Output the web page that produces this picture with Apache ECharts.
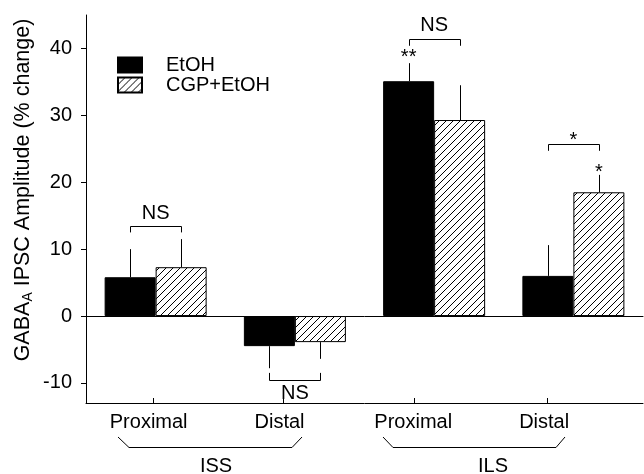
<!DOCTYPE html>
<html>
<head>
<meta charset="utf-8">
<script src="https://cdn.jsdelivr.net/npm/echarts@6/dist/echarts.min.js"></script>
<style>
  html, body { margin: 0; padding: 0; background: #fff; }
  #chart { width: 644px; height: 474px; }
</style>
</head>
<body>
<div id="chart"></div>
<script>
var FONT = '"Liberation Sans", Arial, sans-serif';

// data
var CATEGORIES = ['ISS Proximal', 'ISS Distal', 'ILS Proximal', 'ILS Distal'];
var SERIES_NAMES = ['EtOH', 'CGP+EtOH'];
var ETOH = [5.8, -4.5, 35.1, 6.0];
var ETOH_ERR = [4.2, 3.3, 2.7, 4.6];
var CGP = [7.3, -3.9, 29.3, 18.5];
var CGP_ERR = [4.2, 2.5, 5.2, 2.6];

var Y_TICKS = [-10, 0, 10, 20, 30, 40];
// bottom axis labels sit a bit left of the bar pairs in the original
var X_TICK_POS = [0.48, 1.42, 2.36, 3.31];
var X_LABEL_POS = [0.45, 1.39, 2.35, 3.29];
var X_LABELS = ['Proximal', 'Distal', 'Proximal', 'Distal'];

// significance brackets: category, height, leg direction
var BRACKET_CAT = [0, 1, 2, 3];
var BRACKET_Y = [13.5, -9.5, 41.4, 25.7];
var BRACKET_LEG = [-1, 1, -1, -1];

// annotation text: category, side (-1 EtOH, 0 middle, 1 CGP), height
var NOTE_TEXT = ['NS', 'NS', 'NS', '**', '*', '*'];
var NOTE_CAT = [0, 1, 2, 2, 3, 3];
var NOTE_SIDE = [0, 0, 0, -1, 0, 1];
var NOTE_Y = [15.3, -11.6, 43.5, 38.7, 26.2, 21.4];

var BAR_W = 51;

function makeHatch() {
  var c = document.createElement('canvas');
  c.width = 7; c.height = 7;
  var ctx = c.getContext('2d');
  ctx.fillStyle = '#fff';
  ctx.fillRect(0, 0, 7, 7);
  ctx.strokeStyle = '#000';
  ctx.lineWidth = 1;
  ctx.beginPath();
  ctx.moveTo(-1, 8); ctx.lineTo(8, -1);
  ctx.moveTo(-1, 1); ctx.lineTo(1, -1);
  ctx.moveTo(6, 8); ctx.lineTo(8, 6);
  ctx.stroke();
  return c;
}

function errData(vals, errs) {
  return vals.map(function (v, i) { return [i, v, errs[i]]; });
}

function errRenderer(side) {
  return function (params, api) {
    var v = api.value(1), e = api.value(2);
    var a = api.coord([api.value(0), v]);
    var b = api.coord([api.value(0), v < 0 ? v - e : v + e]);
    var x = Math.round(a[0] + side * BAR_W / 2) + 0.5;
    return {
      type: 'line',
      shape: { x1: x, y1: a[1], x2: x, y2: b[1] },
      style: { stroke: '#000', lineWidth: 1 }
    };
  };
}

var bracketData = BRACKET_CAT.map(function (c, i) { return [c, BRACKET_Y[i], BRACKET_LEG[i]]; });
var noteData = NOTE_TEXT.map(function (t, i) { return [NOTE_CAT[i], NOTE_Y[i], NOTE_SIDE[i]]; });

var chart = echarts.init(document.getElementById('chart'), null, { renderer: 'canvas' });
var hatch = { image: makeHatch(), repeat: 'repeat' };

chart.setOption({
  animation: false,
  textStyle: { fontFamily: FONT, color: '#000' },
  grid: { left: 86, right: 1, top: 15, bottom: 71, containLabel: false },
  legend: {
    data: SERIES_NAMES,
    orient: 'vertical',
    left: 117,
    top: 55,
    padding: 0,
    itemWidth: 24,
    itemHeight: 15,
    itemGap: 0,
    icon: 'rect',
    selectedMode: false,
    textStyle: { fontSize: 20, lineHeight: 20, fontFamily: FONT, color: '#000', padding: [0, 0, 0, 19] }
  },
  xAxis: [{
    type: 'category',
    data: CATEGORIES,
    axisLine: { onZero: true, lineStyle: { color: '#000', width: 1 } },
    axisTick: { show: false },
    axisLabel: { show: false },
    splitLine: { show: false }
  }, {
    type: 'value',
    position: 'bottom',
    min: 0,
    max: 4,
    axisLine: { show: true, onZero: false, lineStyle: { color: '#000', width: 1 } },
    axisTick: { show: true, inside: true, length: 5, lineStyle: { color: '#000' }, customValues: X_TICK_POS },
    axisLabel: {
      customValues: X_LABEL_POS,
      margin: 9,
      fontSize: 20,
      fontFamily: FONT,
      color: '#000',
      formatter: function (v) {
        var i = X_LABEL_POS.indexOf(v);
        return i >= 0 ? X_LABELS[i] : '';
      }
    },
    splitLine: { show: false }
  }],
  yAxis: {
    type: 'value',
    min: -13,
    max: 45,
    axisLine: { show: true, lineStyle: { color: '#000', width: 1 } },
    axisTick: { show: true, inside: false, length: 5, lineStyle: { color: '#000' }, customValues: Y_TICKS },
    axisLabel: { customValues: Y_TICKS, margin: 14, fontSize: 20, fontFamily: FONT, color: '#000' },
    splitLine: { show: false }
  },
  series: [{
    name: SERIES_NAMES[0],
    type: 'bar',
    data: ETOH,
    barWidth: BAR_W,
    barGap: '0%',
    itemStyle: { color: '#000', borderColor: '#000', borderWidth: 1 }
  }, {
    name: SERIES_NAMES[1],
    type: 'bar',
    data: CGP,
    barWidth: BAR_W,
    barGap: '0%',
    itemStyle: { color: hatch, borderColor: '#000', borderWidth: 1 }
  }, {
    type: 'custom',
    data: errData(ETOH, ETOH_ERR),
    renderItem: errRenderer(-1),
    z: 5,
    silent: true
  }, {
    type: 'custom',
    data: errData(CGP, CGP_ERR),
    renderItem: errRenderer(1),
    z: 5,
    silent: true
  }, {
    type: 'custom',
    data: bracketData,
    z: 5,
    silent: true,
    renderItem: function (params, api) {
      var c = api.value(0), y = api.value(1), d = api.value(2);
      var p = api.coord([c, y]);
      var q = api.coord([c, y + d]);
      var l = Math.round(p[0] - BAR_W / 2) + 0.5;
      var r = Math.round(p[0] + BAR_W / 2) + 0.5;
      var yh = Math.round(p[1]) + 0.5;
      return {
        type: 'polyline',
        shape: { points: [[l, q[1]], [l, yh], [r, yh], [r, q[1]]] },
        style: { stroke: '#000', lineWidth: 1, fill: null }
      };
    }
  }, {
    type: 'custom',
    data: noteData,
    z: 6,
    silent: true,
    renderItem: function (params, api) {
      var p = api.coord([api.value(0), api.value(1)]);
      return {
        type: 'text',
        x: p[0] + api.value(2) * BAR_W / 2,
        y: p[1],
        style: {
          text: NOTE_TEXT[params.dataIndex],
          font: '20px ' + FONT,
          fill: '#000',
          align: 'center',
          verticalAlign: 'middle'
        }
      };
    }
  }],
  graphic: [{
    type: 'text',
    x: 23,
    y: 190,
    rotation: Math.PI / 2,
    style: {
      text: 'GABA{sub|A} IPSC Amplitude (% change)',
      font: '21.5px ' + FONT,
      fill: '#000',
      align: 'center',
      verticalAlign: 'middle',
      rich: {
        sub: { fontSize: 14, fontFamily: FONT, padding: [11, 0, 0, 0] }
      }
    }
  }, {
    type: 'polyline',
    shape: { points: [[118, 437], [129, 447.5], [292, 447.5], [302, 437]] },
    style: { stroke: '#000', lineWidth: 1, fill: null }
  }, {
    type: 'polyline',
    shape: { points: [[383, 437], [393, 447.5], [556, 447.5], [565, 437]] },
    style: { stroke: '#000', lineWidth: 1, fill: null }
  }, {
    type: 'text',
    x: 216,
    y: 466,
    style: { text: 'ISS', font: '20px ' + FONT, fill: '#000', align: 'center', verticalAlign: 'middle' }
  }, {
    type: 'text',
    x: 493,
    y: 466,
    style: { text: 'ILS', font: '20px ' + FONT, fill: '#000', align: 'center', verticalAlign: 'middle' }
  }]
});
</script>
</body>
</html>
